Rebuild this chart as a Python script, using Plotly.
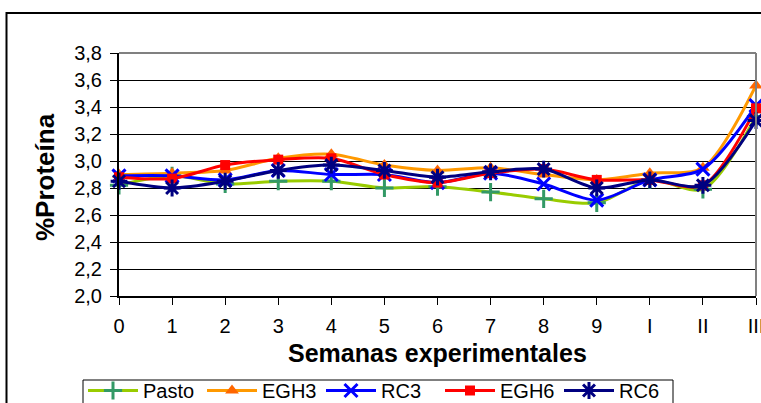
import plotly.graph_objects as go

# Weekly crude protein (%) per treatment
weeks = ['0', '1', '2', '3', '4', '5', '6', '7', '8', '9', 'I', 'II', 'III']
pasto = [2.82, 2.89, 2.83, 2.85, 2.85, 2.80, 2.81, 2.77, 2.72, 2.69, 2.86, 2.79, 3.33]
egh3 = [2.90, 2.91, 2.93, 3.02, 3.05, 2.97, 2.93, 2.95, 2.90, 2.86, 2.91, 2.95, 3.56]
rc3 = [2.89, 2.89, 2.86, 2.93, 2.90, 2.90, 2.84, 2.91, 2.83, 2.71, 2.86, 2.94, 3.41]
egh6 = [2.88, 2.87, 2.97, 3.01, 3.02, 2.90, 2.84, 2.91, 2.94, 2.86, 2.86, 2.82, 3.39]
rc6 = [2.85, 2.80, 2.85, 2.93, 2.97, 2.93, 2.88, 2.92, 2.94, 2.80, 2.86, 2.82, 3.30]

FONT = "Liberation Sans, Arial, sans-serif"

# Pixel geometry of the plot area (used to convert to paper coordinates)
PL, PR, PT, PB = 119, 756, 53, 296


def px(x):
    return (x - PL) / (PR - PL)


def py(y):
    return (PB - y) / (PB - PT)


series = [
    # name, values, line colour, marker symbol, marker colour, size, thin symbol?
    ("Pasto", pasto, "#99CC00", "cross-thin", "#339966", 13, True),
    ("EGH3", egh3, "#FF9900", "triangle-up", "#FF6600", 12, False),
    ("RC3", rc3, "#0000FF", "x-thin", "#0000FF", 13, True),
    ("EGH6", egh6, "#FF0000", "square", "#FF0000", 10, False),
    ("RC6", rc6, "#000080", "asterisk", "#000080", 14, True),
]

fig = go.Figure()
for name, vals, lc, sym, mc, size, thin in series:
    marker = dict(symbol=sym, size=size, color=mc)
    if thin:
        marker["line"] = dict(color=mc, width=3)
    else:
        marker["line"] = dict(width=0)
    fig.add_trace(go.Scatter(
        x=weeks, y=vals, name=name, mode="lines+markers",
        line=dict(color=lc, width=3, shape="spline", smoothing=0.8),
        marker=marker, cliponaxis=False,
    ))

# Plot-area frame: grey top and right edges
fig.add_shape(type="line", xref="paper", yref="paper", x0=0, x1=1, y0=1, y1=1,
              line=dict(color="#808080", width=2))
fig.add_shape(type="line", xref="paper", yref="paper", x0=1, x1=1, y0=0, y1=1,
              line=dict(color="#808080", width=2))
# Outer chart frame
fig.add_shape(type="rect", xref="paper", yref="paper",
              x0=px(6.5), x1=px(775), y0=py(420), y1=py(13),
              line=dict(color="#000000", width=2), layer="below")
# Legend frame
fig.add_shape(type="rect", xref="paper", yref="paper",
              x0=px(83), x1=px(673), y0=py(415), y1=py(380),
              line=dict(color="#000000", width=1), layer="below")

fig.add_annotation(text="<b>Semanas experimentales</b>", xref="paper", yref="paper",
                   x=0.5, y=py(353), showarrow=False,
                   font=dict(family=FONT, size=25, color="#000"),
                   xanchor="center", yanchor="middle")
fig.add_annotation(text="<b>%Proteína</b>", xref="paper", yref="paper",
                   x=px(45), y=py(177), showarrow=False,
                   textangle=-90, font=dict(family=FONT, size=26, color="#000"),
                   xanchor="center", yanchor="middle")

fig.update_layout(
    width=761, height=403, autosize=False,
    margin=dict(l=PL, r=761 - PR, t=PT, b=403 - PB, autoexpand=False),
    paper_bgcolor="white", plot_bgcolor="white",
    separators=", ",
    font=dict(family=FONT, size=18, color="#000"),
    showlegend=True,
    legend=dict(
        orientation="h", x=px(83), y=py(371),
        xanchor="left", yanchor="top",
        borderwidth=0, bgcolor="rgba(0,0,0,0)",
        font=dict(family=FONT, size=20, color="#000"),
        itemwidth=50, tracegroupgap=0,
        entrywidth=54, entrywidthmode="pixels",
    ),
    xaxis=dict(
        type="category", range=[0, 12], showgrid=False, zeroline=False,
        showline=True, linecolor="#000", linewidth=2,
        ticks="outside", ticklen=7, tickcolor="#000", tickwidth=1,
        tickfont=dict(family=FONT, size=20, color="#000"),
        ticklabelstandoff=4,
    ),
    yaxis=dict(
        range=[2.0, 3.8], dtick=0.2, tick0=2.0, tickformat=".1f",
        showgrid=True, gridcolor="#000000", gridwidth=1, zeroline=False,
        showline=True, linecolor="#000", linewidth=2,
        ticks="outside", ticklen=7, tickcolor="#000", tickwidth=1,
        tickfont=dict(family=FONT, size=20, color="#000"),
        ticklabelstandoff=4,
    ),
)

fig.write_html("out.html")
